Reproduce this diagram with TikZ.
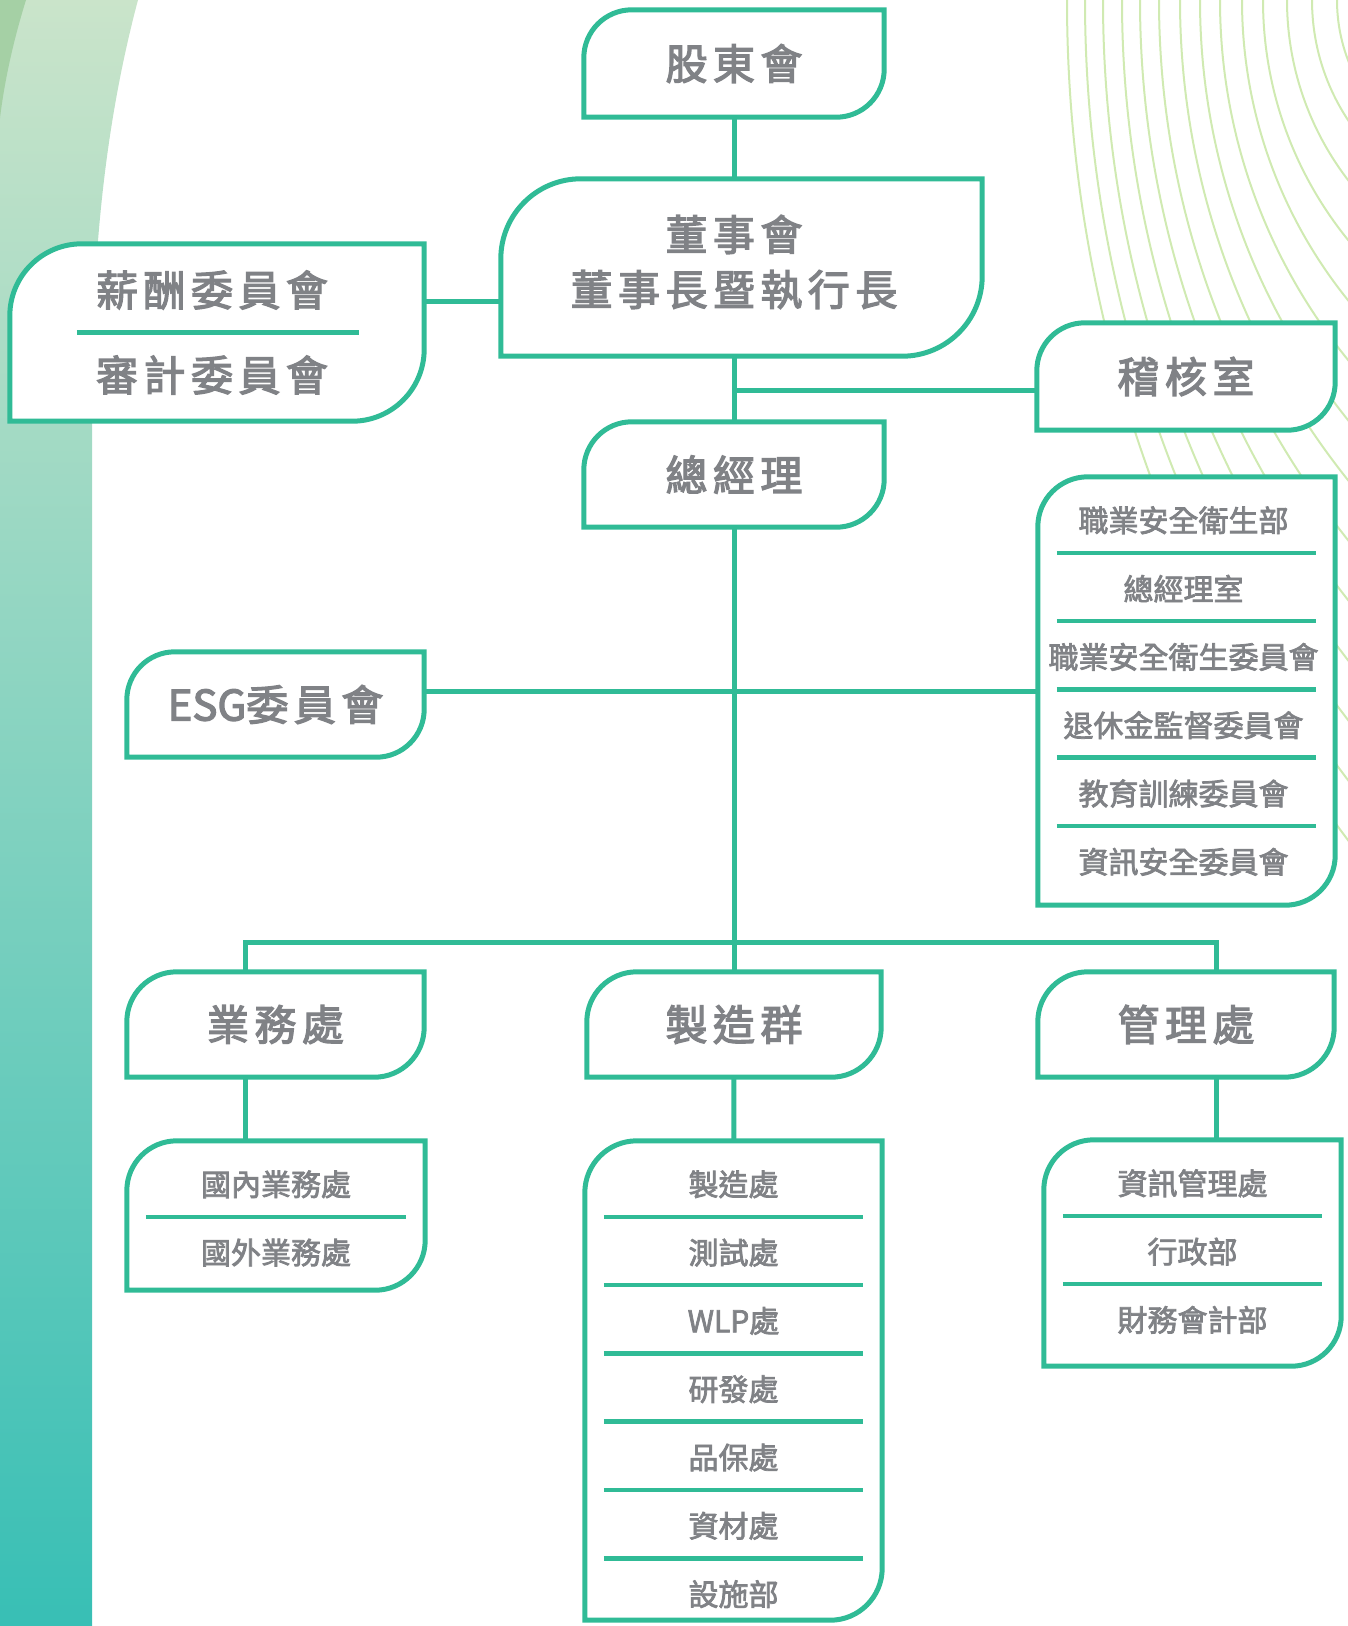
\documentclass[tikz,border=0pt]{standalone}
\usepackage{fontspec}
\newfontfamily\cjk{Noto Sans CJK TC}[FakeBold=2.5]
\newfontfamily\cjktitle{Noto Sans CJK TC}[LetterSpace=13,FakeBold=3]
\newfontfamily\cjklatin{Noto Sans CJK TC}[FakeBold=3]
\usetikzlibrary{calc}
\pgfdeclarelayer{bg}
\pgfsetlayers{bg,main}

\definecolor{orggreen}{RGB}{48,187,150}
\definecolor{orggray}{RGB}{128,130,134}
\definecolor{fanline}{RGB}{208,234,178}
\definecolor{striptop}{RGB}{202,228,202}
\definecolor{stripbot}{RGB}{56,191,181}
\definecolor{bandtop}{RGB}{165,208,165}

\tikzset{
  box/.style={inner sep=0pt, text=orggray, font=\cjktitle\fontsize{42}{55}\selectfont},
  item/.style={inner sep=0pt, text=orggray, font=\cjk\fontsize{30}{36}\selectfont},
  frame/.style={draw=orggreen, line width=5pt, fill=white},
  link/.style={draw=orggreen, line width=5pt},
  divider/.style={draw=orggreen, line width=4.5pt},
  fan/.style={draw=fanline, line width=2pt}
}

% box with rounded top left and bottom right corners
\newcommand{\orgframe}[2]{%
  \draw[frame] ([yshift=-#2]#1.north west) arc[start angle=180,end angle=90,radius=#2]
    -- (#1.north east) -- ([yshift=#2]#1.south east)
    arc[start angle=0,end angle=-90,radius=#2] -- (#1.south west) -- cycle;}

\begin{document}
\begin{tikzpicture}[x=1pt,y=-1pt]
\useasboundingbox (0,0) rectangle (1348,1626);

% top levels
\node[box, minimum width=300pt, minimum height=107pt] (shareholders) at (734,63.5) {股東會};
\node[box, minimum width=481pt, minimum height=177pt] (board) at (741.5,267.5) {};
\node[box, align=center] (boardtext) at (734,262) {董事會\\董事長暨執行長};
\node[box, minimum width=414pt, minimum height=177pt] (comm) at (217,332.5) {};
\node[box] (pay) at (212,290) {薪酬委員會};
\node[box] (auditcomm) at (212,375) {審計委員會};
\node[box, minimum width=298pt, minimum height=107pt] (office) at (1186,376.5) {稽核室};
\node[box, minimum width=300pt, minimum height=105pt] (gm) at (734,474.5) {總經理};
\node[box, minimum width=297pt, minimum height=428pt] (committees) at (1186.5,691) {};
\node[box, minimum width=297pt, minimum height=105pt] (esg) at (275.5,704.5) {{\cjklatin ESG}委員會};

% divisions
\node[box, minimum width=297pt, minimum height=105pt] (sales) at (275.5,1024.5) {業務處};
\node[box, minimum width=294pt, minimum height=105pt] (mfg) at (734,1024.5) {製造群};
\node[box, minimum width=296pt, minimum height=105pt] (admin) at (1186,1024.5) {管理處};
\node[box, minimum width=298pt, minimum height=149pt] (salesunits) at (276,1215.5) {};
\node[box, minimum width=297pt, minimum height=479pt] (mfgunits) at (733.5,1380.5) {};
\node[box, minimum width=297pt, minimum height=226pt] (adminunits) at (1192.5,1253) {};

\coordinate (payjoin) at (0,301);
\coordinate (officejoin) at (734,390);
\coordinate (esgjoin) at (0,691);
\coordinate (busleft) at (245,942);
\coordinate (busright) at (1216,942);

\begin{pgfonlayer}{bg}
% background
\shade[top color=striptop, bottom color=stripbot] (0,0) -- (138,0) .. controls (106,120) and (92,250) .. (92,400) -- (92,1626) -- (0,1626) -- cycle;
\fill[bandtop] (0,0) -- (26,0) .. controls (12,45) and (4,85) .. (0,118) -- cycle;
\begin{scope}
\clip (0,0) rectangle (1348,1626);
\foreach \x/\r in {1067/1396,1085/1288,1103/1180,1122/1077,1140/969,1159/866,1180/770,
                   1200/670,1220/570,1242/478,1263/381,1287/296,1312/218,1337/169}
  \draw[fan] (\x,0) arc[start angle=180,end angle=270,radius=\r pt];
\end{scope}

% connectors
\draw[link] (shareholders) -- (mfg);
\draw[link] (comm |- payjoin) -- (board |- payjoin);
\draw[link] (officejoin) -- (office |- officejoin);
\draw[link] (esg |- esgjoin) -- (committees |- esgjoin);
\draw[link] (busleft |- salesunits) -- (busleft) -- (busright) -- (busright |- adminunits);
\draw[link] (mfg) -- (mfgunits);

% frames
\orgframe{shareholders}{48pt}
\orgframe{board}{80pt}
\orgframe{comm}{72pt}
\orgframe{office}{48pt}
\orgframe{gm}{48pt}
\orgframe{committees}{50pt}
\orgframe{esg}{48pt}
\orgframe{sales}{50pt}
\orgframe{mfg}{50pt}
\orgframe{admin}{50pt}
\orgframe{salesunits}{50pt}
\orgframe{mfgunits}{52pt}
\orgframe{adminunits}{50pt}
\end{pgfonlayer}

\draw[divider] ($(comm.west)+(67,0)$) -- ($(comm.east)+(-65,0)$);

% unit lists
\foreach \lbl [count=\i] in {職業安全衛生部,總經理室,職業安全衛生委員會,退休金監督委員會,教育訓練委員會,資訊安全委員會}
  \node[item] (committees-\i) at ($(committees.north)+(-3,{43.5+68.3*(\i-1)})$) {\lbl};
\foreach \i in {1,...,5}
  \draw[divider] ($(committees.north west)+(19,{76+68.3*(\i-1)})$) -- ($(committees.north east)+(-19,{76+68.3*(\i-1)})$);

\foreach \lbl [count=\i] in {國內業務處,國外業務處}
  \node[item] (salesunits-\i) at ($(salesunits.north)+(0,{43.5+68.3*(\i-1)})$) {\lbl};
\draw[divider] ($(salesunits.north west)+(19,76)$) -- ($(salesunits.north east)+(-19,76)$);

\foreach \lbl [count=\i] in {製造處,測試處,WLP處,研發處,品保處,資材處,設施部}
  \node[item] (mfgunits-\i) at ($(mfgunits.north)+(0,{43.5+68.3*(\i-1)})$) {\lbl};
\foreach \i in {1,...,6}
  \draw[divider] ($(mfgunits.north west)+(19,{76+68.3*(\i-1)})$) -- ($(mfgunits.north east)+(-19,{76+68.3*(\i-1)})$);

\foreach \lbl [count=\i] in {資訊管理處,行政部,財務會計部}
  \node[item] (adminunits-\i) at ($(adminunits.north)+(0,{43.5+68.3*(\i-1)})$) {\lbl};
\foreach \i in {1,2}
  \draw[divider] ($(adminunits.north west)+(19,{76+68.3*(\i-1)})$) -- ($(adminunits.north east)+(-19,{76+68.3*(\i-1)})$);
\end{tikzpicture}
\end{document}
